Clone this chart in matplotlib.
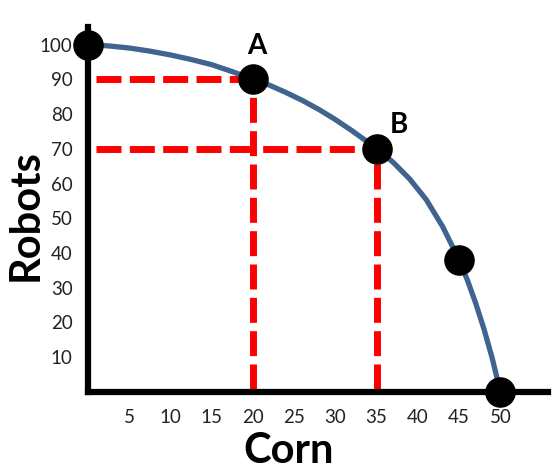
import matplotlib
matplotlib.use("Agg")
import matplotlib.pyplot as plt

plt.rcParams['font.family'] = ['Lato', 'DejaVu Sans']

# production possibilities frontier
curve_corn = [0, 2.5, 5, 7.5, 10, 12.5, 15, 17.5, 20, 22, 24, 26, 28, 30, 32, 34, 35,
              37, 39, 41, 43, 45, 46, 47, 48, 49, 50]
curve_robots = [100, 99.6, 99.0, 98.1, 97.0, 95.7, 94.2, 92.2, 90, 88.3, 86.2, 83.9, 81.3,
                78.4, 75.2, 71.8, 70, 66.1, 61.3, 55.4, 47.6, 38, 32.2, 25.6, 18.2, 9.8, 0]

point_corn = [0, 20, 35, 45, 50]
point_robots = [100, 90, 70, 38, 0]

labelled = {"A": (20, 90), "B": (35, 70)}
label_offsets = {"A": (3, 24), "B": (16, 17)}

x_ticks = [5, 10, 15, 20, 25, 30, 35, 40, 45, 50]
y_ticks = [10, 20, 30, 40, 50, 60, 70, 80, 90, 100]

fig = plt.figure(figsize=(5.6, 4.72), dpi=100)
ax = fig.add_axes([0.157, 0.1695, 0.822, 0.773])

# red guide lines to A and B
for name, (cx, ry) in labelled.items():
    ax.plot([1, cx], [ry, ry], color='#ff0000', lw=5, dashes=(3.6, 1.2), zorder=2)
    ax.plot([cx, cx], [0.8, ry], color='#ff0000', lw=5, dashes=(3.6, 1.2), zorder=2)

ax.plot(curve_corn, curve_robots, color='#406490', lw=3.8, zorder=3,
        solid_capstyle='round', solid_joinstyle='round')
ax.plot(point_corn, point_robots, 'o', color='black', ms=21, zorder=4, clip_on=False)

for name, (cx, ry) in labelled.items():
    ax.annotate(name, (cx, ry), xytext=label_offsets[name], textcoords='offset points',
                ha='center', va='center', fontsize=20, fontweight='bold')

ax.set_xlim(0, 55.8)
ax.set_ylim(0, 105)
ax.set_xticks(x_ticks)
ax.set_yticks(y_ticks)
ax.tick_params(length=0, labelsize=13.5, colors='#222222')
ax.tick_params(axis='x', pad=12)
ax.tick_params(axis='y', pad=11)

for side in ['top', 'right']:
    ax.spines[side].set_visible(False)
for side in ['left', 'bottom']:
    ax.spines[side].set_linewidth(4.5)
    ax.spines[side].set_capstyle('projecting')

ax.set_xlabel('Corn', fontsize=30, fontweight='bold')
ax.xaxis.set_label_coords(0.437, -0.11)
ax.set_ylabel('Robots', fontsize=30, fontweight='bold')
ax.yaxis.set_label_coords(-0.093, 0.485)

fig.savefig('out.png', dpi=100)
